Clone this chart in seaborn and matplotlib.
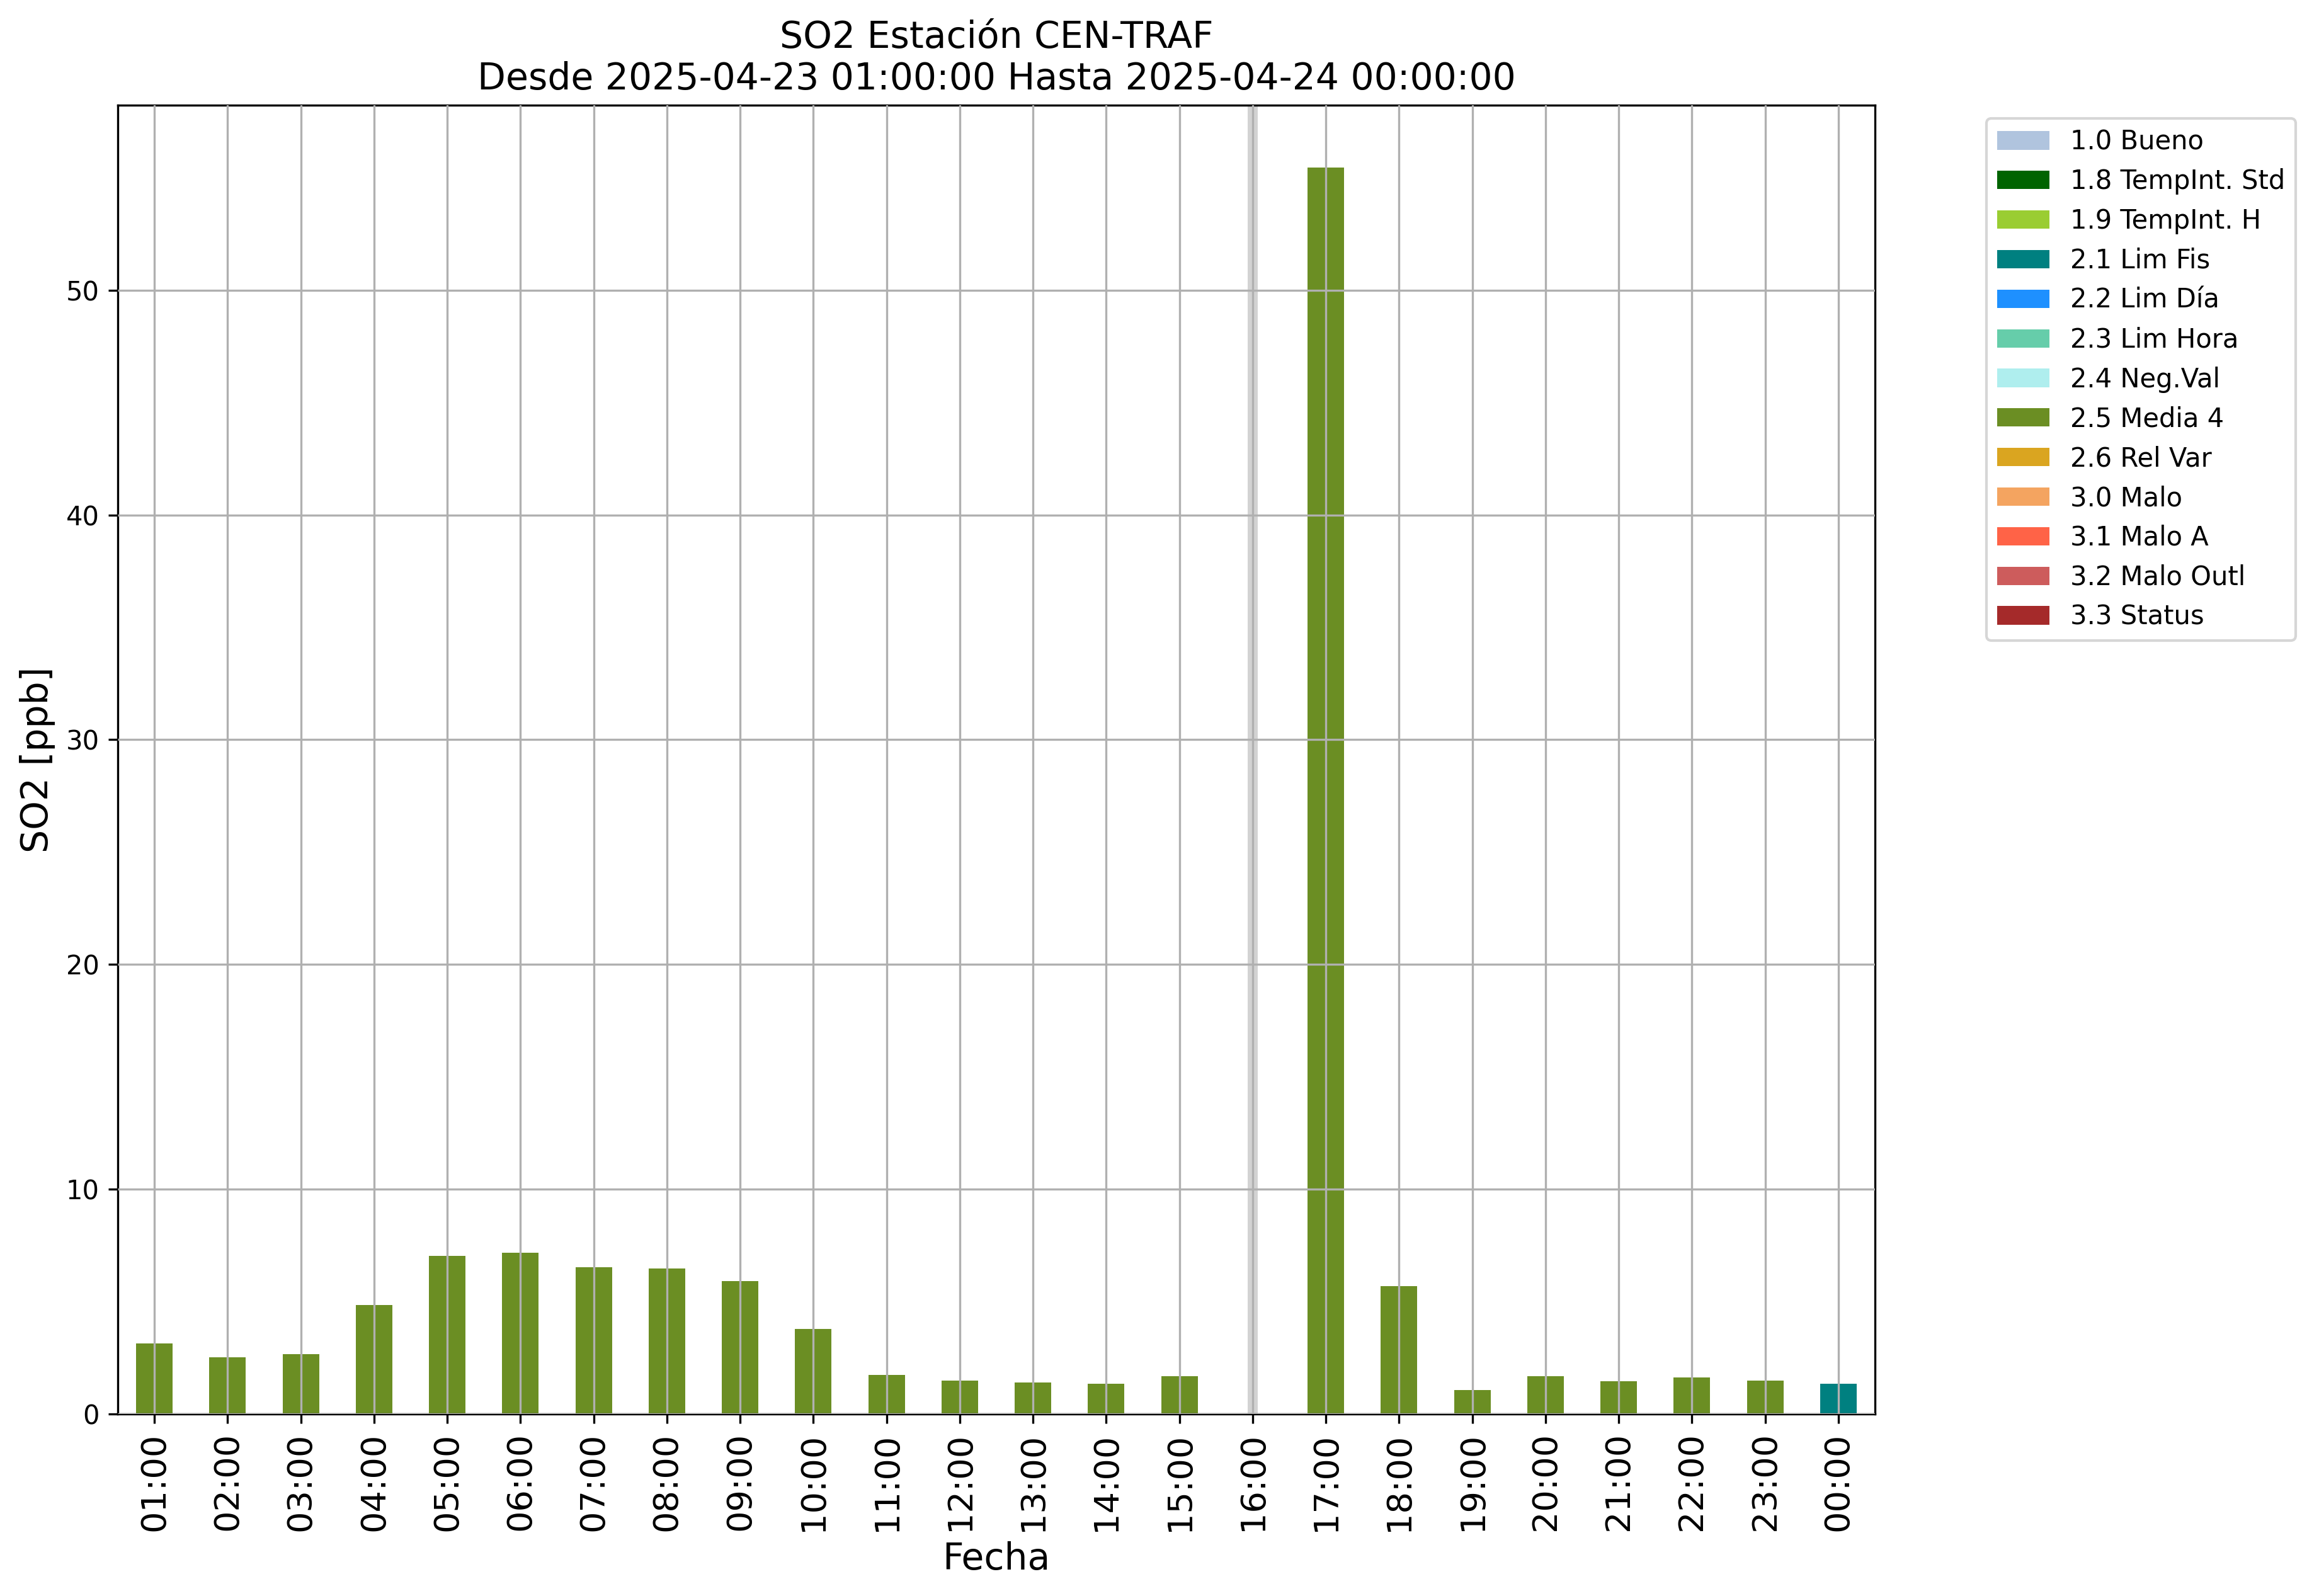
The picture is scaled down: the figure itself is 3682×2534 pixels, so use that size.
import numpy as np
import pandas as pd
import matplotlib
matplotlib.use('Agg')
import matplotlib.pyplot as plt
import seaborn as sns
from matplotlib.patches import Patch

# Datos
horas = ['01:00', '02:00', '03:00', '04:00', '05:00', '06:00', '07:00', '08:00',
         '09:00', '10:00', '11:00', '12:00', '13:00', '14:00', '15:00', '16:00',
         '17:00', '18:00', '19:00', '20:00', '21:00', '22:00', '23:00', '00:00']
valores = [3.14, 2.52, 2.66, 4.85, 7.04, 7.18, 6.53, 6.48, 5.92, 3.78, 1.74, 1.49,
           1.40, 1.35, 1.68, np.nan, 55.46, 5.69, 1.07, 1.68, 1.46, 1.63, 1.49, 1.35]
flags_dato = ['2.5 Media 4'] * 23 + ['2.1 Lim Fis']

flags = ['1.0 Bueno', '1.8 TempInt. Std', '1.9 TempInt. H', '2.1 Lim Fis', '2.2 Lim Día',
         '2.3 Lim Hora', '2.4 Neg.Val', '2.5 Media 4', '2.6 Rel Var', '3.0 Malo',
         '3.1 Malo A', '3.2 Malo Outl', '3.3 Status']
colores = ['lightsteelblue', 'darkgreen', 'yellowgreen', 'teal', 'dodgerblue',
           'mediumaquamarine', 'paleturquoise', 'olivedrab', 'goldenrod', 'sandybrown',
           'tomato', 'indianred', 'brown']
paleta = dict(zip(flags, colores))

df = pd.DataFrame({'Fecha': horas, 'SO2': valores, 'flag': flags_dato})

fig, ax = plt.subplots(figsize=(3682 / 300, 2534 / 300), dpi=300)
fig.subplots_adjust(left=187 / 3682, right=2977 / 3682, top=1 - 167 / 2534, bottom=1 - 2245 / 2534)

# Horas sin dato marcadas en gris
for i, v in enumerate(valores):
    if np.isnan(v):
        ax.axvspan(i - 0.07, i + 0.07, color='lightgray', lw=0)

sns.barplot(data=df, x='Fecha', y='SO2', hue='flag', order=horas, hue_order=flags,
            palette=paleta, dodge=False, width=0.5, errorbar=None, legend=False,
            saturation=1, ax=ax)

ax.set_axisbelow(False)
ax.grid(True)
ax.set_xlim(-0.5, len(horas) - 0.5)
ax.set_ylim(0, np.nanmax(valores) * 1.05)

for lado in ['top', 'right']:
    ax.spines[lado].set_visible(True)

ax.tick_params(axis='x', labelsize=13, labelrotation=90)
ax.tick_params(axis='y', labelsize=10)
ax.set_xlabel('Fecha', fontsize=14)
ax.set_ylabel('SO2 [ppb]', fontsize=14)
ax.set_title('SO2 Estación CEN-TRAF\nDesde 2025-04-23 01:00:00 Hasta 2025-04-24 00:00:00', fontsize=14)

handles = [Patch(facecolor=c, label=f) for f, c in zip(flags, colores)]
ax.legend(handles=handles, bbox_to_anchor=(1.056, 1), loc='upper left', fontsize=10)

fig.savefig('out.png', dpi=300)
